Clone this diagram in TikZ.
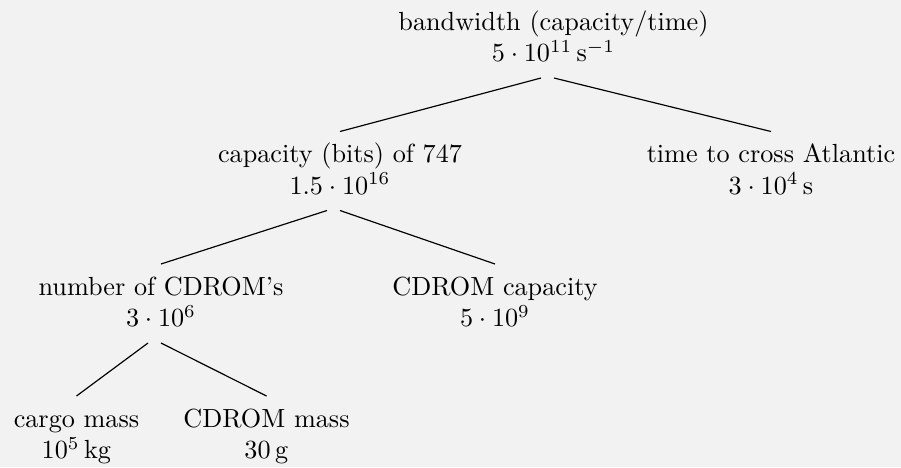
\documentclass[tikz,border=0pt]{standalone}
\usepackage{amsmath}
\usetikzlibrary{positioning}
\definecolor{paper}{HTML}{F2F2F2}
\definecolor{ink}{HTML}{000000}
\tikzset{
  estnode/.style={
    align=center, inner sep=0pt, anchor=base,
    font=\normalsize, text=ink
  },
  branch/.style={
    line width=0.45pt, color=ink
  },
}

\begin{document}
\begin{tikzpicture}[x=0.3817pt, y=-0.3817pt]
  \fill[paper] (0,0) rectangle (901,467);
  \useasboundingbox (0,0) rectangle (901,467);

  % Level 0 (base = last line)
  \node[estnode] (bw) at (553.5,61.5) {bandwidth (capacity/time)\\ $5\cdot 10^{11}\,\mathrm{s}^{-1}$};

  % Level 1
  \node[estnode] (cap) at (340,194) {capacity (bits) of 747\\ $1.5\cdot 10^{16}$};
  \node[estnode] (time) at (771,194) {time to cross Atlantic\\ $3\cdot 10^{4}\,\mathrm{s}$};

  % Level 2
  \node[estnode] (ncd) at (161,326.5) {number of CDROM's\\ $3\cdot 10^{6}$};
  \node[estnode] (cdcap) at (495,326.5) {CDROM capacity\\ $5\cdot 10^{9}$};

  % Level 3
  \node[estnode] (cargo) at (76.5,458.5) {cargo mass\\ $10^{5}\,\mathrm{kg}$};
  \node[estnode] (cdmass) at (266.5,458.5) {CDROM mass\\ $30\,\mathrm{g}$};

  \foreach \p/\c/\dx in {bw/cap/-12.5, bw/time/0.5, cap/ncd/-13, cap/cdcap/0,
                         ncd/cargo/-13, ncd/cdmass/0} {
    \draw[branch] ([shift={(\dx,16.5)}]\p.base) -- ([shift={(0,-62.5)}]\c.base);
  }
\end{tikzpicture}
\end{document}
